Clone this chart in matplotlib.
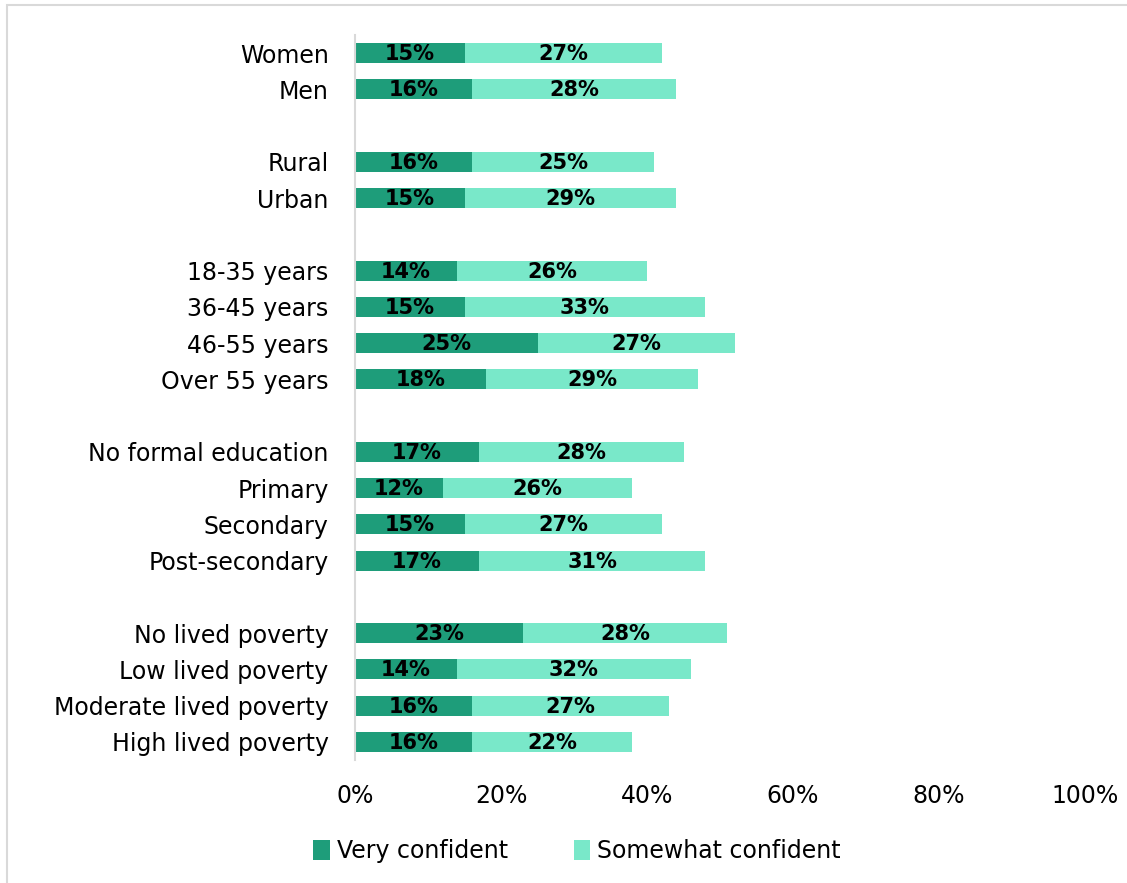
import numpy as np
import matplotlib.pyplot as plt
from matplotlib.patches import Rectangle

plt.rcParams['font.family'] = ['DejaVu Sans']

# groups separated by blank rows
groups = [
    ["Women", "Men"],
    ["Rural", "Urban"],
    ["18-35 years", "36-45 years", "46-55 years", "Over 55 years"],
    ["No formal education", "Primary", "Secondary", "Post-secondary"],
    ["No lived poverty", "Low lived poverty", "Moderate lived poverty", "High lived poverty"],
]
very = [15, 16, 16, 15, 14, 15, 25, 18, 17, 12, 15, 17, 23, 14, 16, 16]
somewhat = [27, 28, 25, 29, 26, 33, 27, 29, 28, 26, 27, 31, 28, 32, 27, 22]
series_names = ["Very confident", "Somewhat confident"]
colors = ["#1e9d7a", "#79e8c9"]

labels, ypos = [], []
slot = 0
for g in groups:
    for lab in g:
        labels.append(lab)
        ypos.append(slot)
        slot += 1
    slot += 1
ypos = np.array(ypos)

fig = plt.figure(figsize=(11.27, 8.83), dpi=100)
ax = fig.add_axes([355 / 1127, 1 - 760 / 883, 730 / 1127, 725 / 883])

very = np.array(very)
somewhat = np.array(somewhat)
b1 = ax.barh(ypos, very, height=0.55, color=colors[0], label=series_names[0])
b2 = ax.barh(ypos, somewhat, left=very, height=0.55, color=colors[1], label=series_names[1])

for vals, lefts in ((very, np.zeros_like(very)), (somewhat, very)):
    for y, v, l in zip(ypos, vals, lefts):
        ax.text(l + v / 2, y + 0.03, f"{v}%", ha="center", va="center",
                fontsize=15, fontweight="bold", color="black")

ax.set_xlim(0, 100)
ax.set_ylim(ypos[-1] + 0.5, -0.5)
ax.set_yticks(ypos)
ax.set_yticklabels(labels, fontsize=17)
ax.set_xticks(np.arange(0, 101, 20))
ax.set_xticklabels([f"{t}%" for t in range(0, 101, 20)], fontsize=17)
ax.tick_params(length=0, pad=19, axis="y")
ax.tick_params(length=0, pad=17, axis="x")
for s in ("top", "right", "bottom"):
    ax.spines[s].set_visible(False)
ax.spines["left"].set_color("#d9d9d9")
ax.spines["left"].set_linewidth(1.5)

fig.legend(handles=[b1, b2], loc="center", bbox_to_anchor=(0.512, 1 - 851 / 883),
           ncol=2, frameon=False, fontsize=17, handlelength=0.7, handleheight=0.9,
           handletextpad=0.3, columnspacing=2.8)

fig.patches.append(Rectangle((7 / 1127, -0.01), 1.02, 1 - 5 / 883 + 0.01,
                             transform=fig.transFigure, fill=False,
                             edgecolor="#d9d9d9", linewidth=1.5))

fig.savefig("out.png", dpi=100)
